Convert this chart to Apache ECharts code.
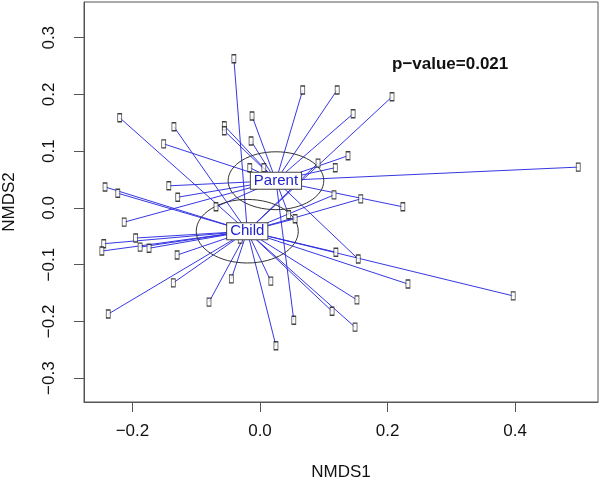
<!DOCTYPE html>
<html>
<head>
<meta charset="utf-8">
<script src="https://cdn.jsdelivr.net/npm/echarts@6/dist/echarts.min.js"></script>
<style>html,body{margin:0;padding:0;background:#fff}#c{width:600px;height:478px}</style>
</head>
<body>
<div id="c"></div>
<script>
// ---- data (NMDS scores) ----
var groupNames = ['Parent', 'Child'];
var parentX = [-0.0125,-0.151,-0.056,-0.056,-0.014,-0.016,0.006,-0.143,-0.129,0.067,0.121,0.146,0.138,0.118,0.224,0.154,0.499,0.053,-0.213,-0.069,0.045];
var parentY = [0.162,0.113,0.145,0.136,0.118,0.071,0.071,0.039,0.019,0.208,0.208,0.166,0.092,0.071,0.002,-0.090,0.072,-0.198,-0.025,0.002,-0.012];
var childX = [-0.041,-0.220,-0.135,-0.243,-0.223,0.207,0.091,0.116,0.158,0.055,0.119,0.232,0.017,0.152,0.113,0.149,0.025,0.397,-0.195,-0.245,-0.248,-0.188,-0.174,-0.130,-0.031,-0.045,-0.136,-0.080,-0.238];
var childY = [0.263,0.159,0.143,0.037,0.026,0.196,0.079,0.023,0.016,-0.019,-0.078,-0.134,-0.129,-0.162,-0.182,-0.210,-0.243,-0.155,-0.053,-0.063,-0.076,-0.069,-0.071,-0.083,-0.055,-0.125,-0.132,-0.166,-0.187];
var centroidX = [0.025, -0.020];
var centroidY = [0.048, -0.041];
var ellipseRX = [0.075, 0.080];
var ellipseRY = [0.051, 0.056];
var xTicks = [-0.2, 0.0, 0.2, 0.4];
var yTicks = [-0.3, -0.2, -0.1, 0.0, 0.1, 0.2, 0.3];
var pValueText = 'p\u2212value=0.021';

// ---- build ----
var groupsX = [parentX, childX];
var groupsY = [parentY, childY];
var pts = [], spider = [];
for (var g = 0; g < 2; g++) {
  for (var i = 0; i < groupsX[g].length; i++) {
    pts.push([groupsX[g][i], groupsY[g][i]]);
    spider.push({coords: [[centroidX[g], centroidY[g]], [groupsX[g][i], groupsY[g][i]]]});
  }
}
var ellData = [], centData = [];
for (var k = 0; k < 2; k++) {
  ellData.push([centroidX[k], centroidY[k], ellipseRX[k], ellipseRY[k]]);
  centData.push([centroidX[k], centroidY[k], k]);
}
function fmt(v) { var s = Math.abs(v).toFixed(1); return (v < -1e-9 ? '\u2212' : '') + s; }

var FONT = '"Liberation Sans", Arial, sans-serif';
var chart = echarts.init(document.getElementById('c'), null, {renderer: 'canvas'});
chart.setOption({
  animation: false,
  backgroundColor: '#fff',
  grid: {left: 84, right: 2, top: 2, bottom: 76, containLabel: false, outerBoundsMode: 'none',
         show: true, borderColor: '#555', borderWidth: 1, backgroundColor: 'transparent'},
  xAxis: {
    type: 'value', min: -0.276, max: 0.530,
    name: 'NMDS1', nameLocation: 'middle', nameGap: 62,
    nameTextStyle: {fontFamily: FONT, fontSize: 17, color: '#111'},
    axisLine: {show: true, onZero: false, lineStyle: {color: '#555'}},
    splitLine: {show: false},
    axisTick: {show: true, inside: false, length: 10, lineStyle: {color: '#555'}, customValues: xTicks},
    axisLabel: {show: true, margin: 21, fontFamily: FONT, fontSize: 17, color: '#111', customValues: xTicks, formatter: fmt}
  },
  yAxis: {
    type: 'value', min: -0.342, max: 0.363,
    name: 'NMDS2', nameLocation: 'middle', nameGap: 66, nameRotate: 90,
    nameTextStyle: {fontFamily: FONT, fontSize: 17, color: '#111'},
    axisLine: {show: true, onZero: false, lineStyle: {color: '#555'}},
    splitLine: {show: false},
    axisTick: {show: true, inside: false, length: 10, lineStyle: {color: '#555'}, customValues: yTicks},
    axisLabel: {show: true, rotate: 90, margin: 26, fontFamily: FONT, fontSize: 17, color: '#111', customValues: yTicks, formatter: fmt}
  },
  graphic: [{
    type: 'text', left: 392, top: 56, z: 100,
    style: {text: pValueText, font: 'bold 17px ' + FONT, fill: '#111'}
  }],
  series: [
    {
      type: 'lines', coordinateSystem: 'cartesian2d', polyline: false, silent: true, z: 2,
      lineStyle: {color: '#2c2ce0', width: 1, opacity: 0.95},
      data: spider
    },
    {
      type: 'custom', coordinateSystem: 'cartesian2d', silent: true, z: 3,
      data: ellData,
      renderItem: function (params, api) {
        var c = api.coord([api.value(0), api.value(1)]);
        var s = api.size([api.value(2), api.value(3)]);
        return {type: 'ellipse', shape: {cx: c[0], cy: c[1], rx: s[0], ry: s[1]},
                style: {fill: null, stroke: '#333', lineWidth: 1}};
      }
    },
    {
      type: 'scatter', silent: true, z: 4,
      symbol: 'rect', symbolSize: [4, 8],
      itemStyle: {color: '#fff', borderColor: '#111', borderWidth: 1},
      data: pts
    },
    {
      type: 'custom', coordinateSystem: 'cartesian2d', silent: true, zlevel: 1, z: 10,
      data: centData,
      renderItem: function (params, api) {
        var c = api.coord([api.value(0), api.value(1)]);
        return {type: 'text', x: c[0], y: c[1], z2: 100,
                style: {text: groupNames[api.value(2)], font: '15px ' + FONT, fill: '#2222cc',
                        align: 'center', verticalAlign: 'middle',
                        backgroundColor: '#fff', borderColor: '#444', borderWidth: 1, padding: [1, 3, 0, 3]}};
      }
    }
  ]
});
</script>
</body>
</html>
